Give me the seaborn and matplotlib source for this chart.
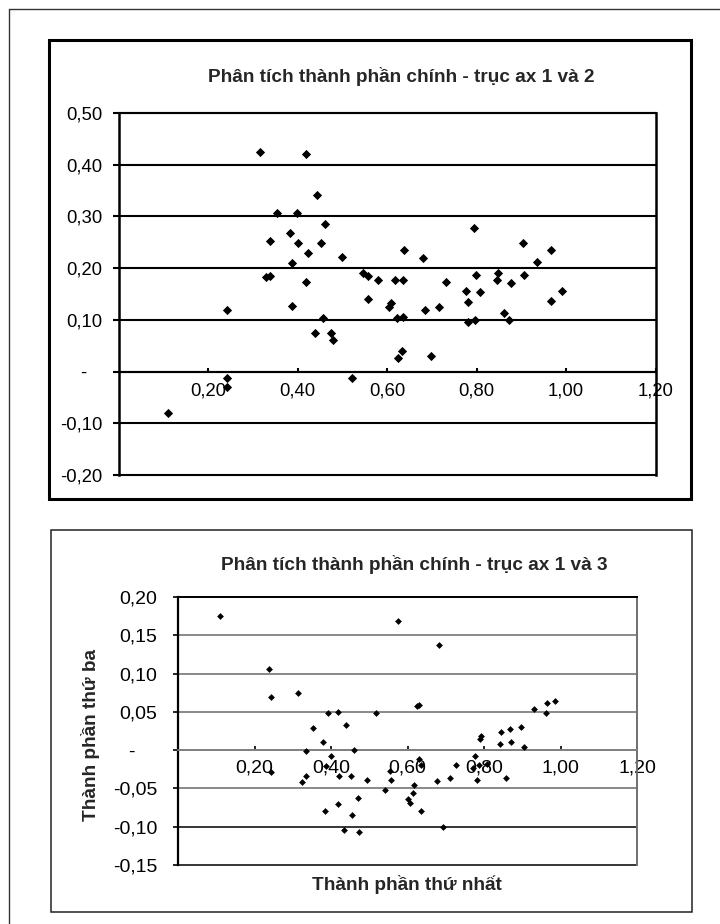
import pandas as pd
import matplotlib
matplotlib.use('Agg')
import matplotlib.pyplot as plt
import seaborn as sns
from matplotlib.ticker import FixedLocator, FuncFormatter
from matplotlib.patches import Rectangle
from matplotlib.lines import Line2D

# Component scores
pc1_a = [0.111, 0.242, 0.242, 0.243, 0.316, 0.330, 0.339, 0.339, 0.354, 0.383,
         0.388, 0.388, 0.398, 0.402, 0.420, 0.420, 0.424, 0.438, 0.443, 0.452,
         0.458, 0.461, 0.474, 0.480, 0.499, 0.521, 0.547, 0.558, 0.558, 0.580,
         0.605, 0.610, 0.618, 0.622, 0.625, 0.633, 0.636, 0.635, 0.638, 0.681,
         0.685, 0.698, 0.717, 0.731, 0.777, 0.780, 0.782, 0.795, 0.797, 0.798,
         0.808, 0.846, 0.849, 0.861, 0.872, 0.876, 0.903, 0.906, 0.936, 0.966,
         0.966, 0.990]
pc2 = [-0.080, -0.013, -0.029, 0.119, 0.425, 0.182, 0.185, 0.252, 0.306, 0.268,
       0.210, 0.127, 0.306, 0.248, 0.420, 0.174, 0.229, 0.074, 0.341, 0.248,
       0.103, 0.285, 0.074, 0.062, 0.222, -0.012, 0.191, 0.185, 0.140, 0.177,
       0.125, 0.133, 0.178, 0.103, 0.026, 0.040, 0.106, 0.178, 0.236, 0.219,
       0.120, 0.030, 0.124, 0.174, 0.156, 0.134, 0.096, 0.277, 0.100, 0.187,
       0.154, 0.178, 0.191, 0.113, 0.100, 0.171, 0.248, 0.187, 0.211, 0.235,
       0.137, 0.156]

pc1_b = [0.110, 0.239, 0.243, 0.243, 0.313, 0.324, 0.335, 0.335, 0.352, 0.378,
         0.385, 0.387, 0.393, 0.400, 0.418, 0.418, 0.421, 0.435, 0.438, 0.451,
         0.454, 0.460, 0.471, 0.473, 0.495, 0.518, 0.542, 0.554, 0.556, 0.576,
         0.602, 0.607, 0.615, 0.617, 0.624, 0.631, 0.631, 0.635, 0.635, 0.678,
         0.683, 0.694, 0.711, 0.727, 0.770, 0.776, 0.781, 0.788, 0.790, 0.792,
         0.809, 0.842, 0.844, 0.858, 0.868, 0.870, 0.898, 0.905, 0.931, 0.961,
         0.964, 0.986]
pc3 = [0.175, 0.106, 0.070, -0.028, 0.074, -0.042, -0.034, -0.001, 0.029, 0.011,
       -0.080, -0.021, 0.049, -0.008, 0.050, -0.070, -0.034, -0.104, 0.033, -0.034,
       -0.085, 0.000, -0.062, -0.107, -0.039, 0.048, -0.052, -0.027, -0.039, 0.169,
       -0.064, -0.069, -0.056, -0.045, 0.058, 0.059, -0.012, -0.020, -0.080, -0.040,
       0.137, -0.101, -0.036, -0.020, -0.023, -0.007, -0.039, -0.020, 0.014, 0.018,
       -0.018, 0.008, 0.024, -0.037, 0.027, 0.011, 0.030, 0.004, 0.054, 0.048,
       0.061, 0.064]

x_ticks = [0.2, 0.4, 0.6, 0.8, 1.0, 1.2]
y_ticks_12 = [-0.2, -0.1, 0.0, 0.1, 0.2, 0.3, 0.4, 0.5]
y_ticks_13 = [-0.15, -0.10, -0.05, 0.0, 0.05, 0.10, 0.15, 0.20]

title_12 = 'Phân tích thành phần chính - trục ax 1 và 2'
title_13 = 'Phân tích thành phần chính - trục ax 1 và 3'
xlabel_13 = 'Thành phần thứ nhất'
ylabel_13 = 'Thành phần thứ ba'

sns.set_style('white')
plt.rcParams['font.family'] = ['Liberation Sans', 'DejaVu Sans']

W, H = 720, 924


def box(l, t, r, b):
    return [l / W, 1 - b / H, (r - l) / W, (b - t) / H]


def comma_fmt(dash_pad):
    def f(v, pos):
        if abs(v) < 1e-9:
            return '-' + ' ' * dash_pad
        return f'{v:.2f}'.replace('.', ',')
    return FuncFormatter(f)


fig = plt.figure(figsize=(7.2, 9.24), dpi=100)

# page frame and chart boxes
fig.add_artist(Line2D([9 / W, 1], [1 - 9 / H, 1 - 9 / H], color='#333333', lw=1.0))
fig.add_artist(Line2D([9 / W, 9 / W], [0, 1 - 9 / H], color='#333333', lw=1.0))
fig.add_artist(Rectangle((49 / W, 1 - 499 / H), 642 / W, 459 / H, fill=False,
                         ec='black', lw=2.2, transform=fig.transFigure))
fig.add_artist(Rectangle((51 / W, 1 - 912 / H), 641 / W, 382 / H, fill=False,
                         ec='#222222', lw=1.1, transform=fig.transFigure))

# ---- chart 1: axes 1 and 2
ax1 = fig.add_axes(box(118.5, 113, 655.5, 475))
df12 = pd.DataFrame({'pc1': pc1_a, 'pc2': pc2})
sns.scatterplot(data=df12, x='pc1', y='pc2', ax=ax1, marker='D', color='black',
                s=22, linewidth=0, zorder=3)
ax1.set_xlim(0, 1.2)
ax1.set_ylim(-0.2, 0.5)
ax1.xaxis.set_major_locator(FixedLocator(x_ticks))
ax1.yaxis.set_major_locator(FixedLocator(y_ticks_12))
ax1.xaxis.set_major_formatter(comma_fmt(0))
ax1.yaxis.set_major_formatter(comma_fmt(3))
ax1.grid(axis='y', color='black', lw=1.5)
for gl in ax1.get_ygridlines():
    gl.set_clip_on(False)
ax1.spines['bottom'].set_position(('data', 0))
for side in ['left', 'right']:
    ax1.spines[side].set_color('black')
    ax1.spines[side].set_linewidth(1.8)
for side in ['top', 'bottom']:
    ax1.spines[side].set_color('black')
    ax1.spines[side].set_linewidth(1.5)
ax1.tick_params(axis='y', direction='out', length=4.3, width=1.5, pad=7.2,
                labelsize=13.3, colors='black', left=True)
ax1.tick_params(axis='x', direction='in', length=3, width=1.5, pad=7.6,
                labelsize=13.3, colors='black', bottom=True)
ax1.set_xlabel('')
ax1.set_ylabel('')

fig.text(401 / W, 1 - 77 / H, title_12, ha='center', va='center',
         fontsize=13.7, fontweight='bold')

# ---- chart 2: axes 1 and 3
ax2 = fig.add_axes(box(178, 597, 637, 865))
df13 = pd.DataFrame({'pc1': pc1_b, 'pc3': pc3})
sns.scatterplot(data=df13, x='pc1', y='pc3', ax=ax2, marker='D', color='black',
                s=12, linewidth=0, zorder=3)
ax2.set_xlim(0, 1.2)
ax2.set_ylim(-0.15, 0.20)
ax2.xaxis.set_major_locator(FixedLocator(x_ticks))
ax2.yaxis.set_major_locator(FixedLocator(y_ticks_13))
ax2.xaxis.set_major_formatter(comma_fmt(0))
ax2.yaxis.set_major_formatter(comma_fmt(4))
ax2.grid(axis='y', color='#808080', lw=1.3)
for gl, val in zip(ax2.get_ygridlines(), y_ticks_13):
    gl.set_clip_on(False)
    if val in (-0.15, -0.10):
        gl.set_color('black')
        gl.set_linewidth(1.1)
ax2.spines['bottom'].set_position(('data', 0))
ax2.spines['bottom'].set_color('#808080')
ax2.spines['bottom'].set_linewidth(1.3)
ax2.spines['left'].set_color('black')
ax2.spines['left'].set_linewidth(1.6)
ax2.spines['top'].set_color('black')
ax2.spines['top'].set_linewidth(1.4)
ax2.spines['right'].set_color('#707070')
ax2.spines['right'].set_linewidth(1.4)
ax2.tick_params(axis='y', direction='out', length=3.6, width=1.2, pad=11.5,
                labelsize=14, colors='black', left=True)
ax2.tick_params(axis='x', direction='in', length=3, width=1.2, pad=6.8,
                labelsize=14, colors='black', bottom=True)
ax2.set_xlabel('')
ax2.set_ylabel('')

fig.text(414 / W, 1 - 565 / H, title_13, ha='center', va='center',
         fontsize=13.7, fontweight='bold')
fig.text(407 / W, 1 - 884 / H, xlabel_13, ha='center', va='center',
         fontsize=13.7, fontweight='bold')
fig.text(90 / W, 1 - 735 / H, ylabel_13, ha='center', va='center',
         rotation=90, fontsize=13.7, fontweight='bold')

fig.savefig('out.png', dpi=100)
